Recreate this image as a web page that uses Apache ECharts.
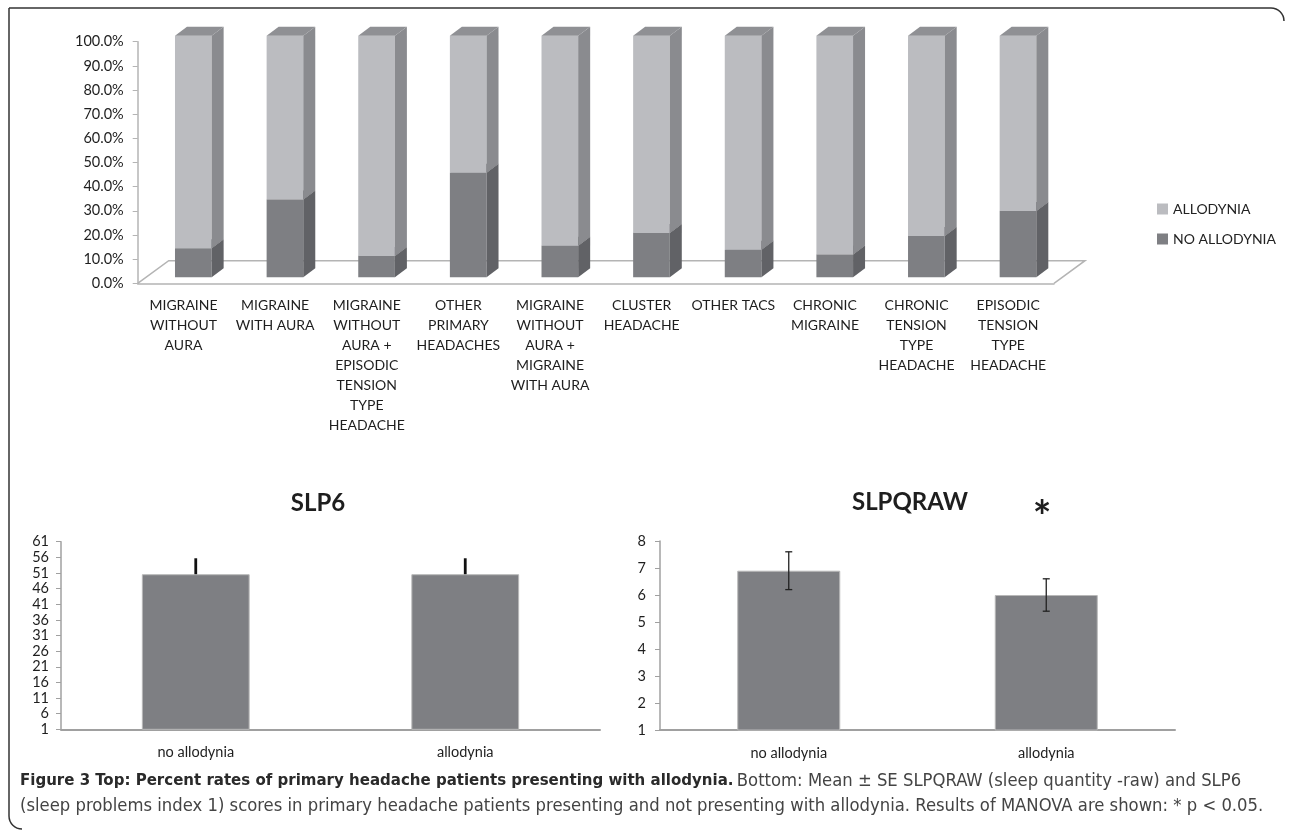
<!DOCTYPE html>
<html>
<head>
<meta charset="utf-8">
<script src="https://cdn.jsdelivr.net/npm/echarts@6/dist/echarts.min.js"></script>
<style>html,body{margin:0;padding:0;background:#fff;}#c{width:1290px;height:831px;}</style>
</head>
<body>
<div id="c"></div>
<script>
// ---- Top chart data ----
const categories = [
  'MIGRAINE\nWITHOUT\nAURA',
  'MIGRAINE\nWITH AURA',
  'MIGRAINE\nWITHOUT\nAURA +\nEPISODIC\nTENSION\nTYPE\nHEADACHE',
  'OTHER\nPRIMARY\nHEADACHES',
  'MIGRAINE\nWITHOUT\nAURA +\nMIGRAINE\nWITH AURA',
  'CLUSTER\nHEADACHE',
  'OTHER TACS',
  'CHRONIC\nMIGRAINE',
  'CHRONIC\nTENSION\nTYPE\nHEADACHE',
  'EPISODIC\nTENSION\nTYPE\nHEADACHE'
];
const noAllodynia = [12.0, 32.2, 8.8, 43.3, 13.1, 18.3, 11.4, 9.4, 17.1, 27.4];
const allodynia   = [88.0, 67.8, 91.2, 56.7, 86.9, 81.7, 88.6, 90.6, 82.9, 72.6];
const seriesNames = ['ALLODYNIA', 'NO ALLODYNIA'];

// ---- Bottom charts data ----
const groups = ['no allodynia', 'allodynia'];
const slp6Mean = [50.6, 50.6];
const slp6SE = [5.1, 5.1];
const slp6Ticks = [1, 6, 11, 16, 21, 26, 31, 36, 41, 46, 51, 56, 61];
const slpqMean = [6.9, 6.0];
const slpqSE = [0.7, 0.6];
const slpqTicks = [1, 2, 3, 4, 5, 6, 7, 8];

const FONT = 'Lato, "Open Sans", sans-serif';
const CAP_FONT = '"Liberation Sans Narrow", "DejaVu Sans Condensed", sans-serif';
const AXIS_GRAY = '#B4B4B4';

// 3D bar geometry (pixel styling only)
const DX_FRONT = 9.8, DY_FRONT = -6, DEPTH_X = 12, DEPTH_Y = -9;

function make3DRender(colFront, colSide, colTop) {
  return function (params, api) {
    const i = api.value(0);
    const lo = api.coord([i, api.value(1)]);
    const hi = api.coord([i, api.value(2)]);
    const band = api.size([1, 0])[0];
    const w = band * 0.4;
    const x0 = lo[0] - w / 2 + DX_FRONT;
    const yb = lo[1] + DY_FRONT;
    const yt = hi[1] + DY_FRONT;
    return {
      type: 'group',
      children: [
        { type: 'rect', shape: { x: x0, y: yt, width: w, height: yb - yt }, style: { fill: colFront } },
        { type: 'polygon', shape: { points: [[x0 + w, yb], [x0 + w + DEPTH_X, yb + DEPTH_Y], [x0 + w + DEPTH_X, yt + DEPTH_Y], [x0 + w, yt]] }, style: { fill: colSide } },
        { type: 'polygon', shape: { points: [[x0, yt], [x0 + DEPTH_X, yt + DEPTH_Y], [x0 + w + DEPTH_X, yt + DEPTH_Y], [x0 + w, yt]] }, style: { fill: colTop } }
      ]
    };
  };
}

const noData = noAllodynia.map((v, i) => [i, 0, v]);
const alloData = allodynia.map((v, i) => [i, noAllodynia[i], noAllodynia[i] + v]);

function errRender(upOnly, color, lw, cap) {
  return function (params, api) {
    const i = api.value(0), m = api.value(1), se = api.value(2);
    const top = api.coord([i, m + se]);
    const mid = api.coord([i, m]);
    const bot = api.coord([i, m - se]);
    const children = [];
    const yStart = upOnly ? mid[1] : bot[1];
    children.push({ type: 'line', shape: { x1: top[0], y1: top[1], x2: top[0], y2: yStart }, style: { stroke: color, lineWidth: lw } });
    if (cap > 0) {
      children.push({ type: 'line', shape: { x1: top[0] - cap, y1: top[1], x2: top[0] + cap, y2: top[1] }, style: { stroke: color, lineWidth: lw } });
      children.push({ type: 'line', shape: { x1: bot[0] - cap, y1: bot[1], x2: bot[0] + cap, y2: bot[1] }, style: { stroke: color, lineWidth: lw } });
    }
    return { type: 'group', children: children };
  };
}

const chart = echarts.init(document.getElementById('c'), null, { renderer: 'canvas' });

const option = {
  backgroundColor: '#fff',
  animation: false,
  textStyle: { fontFamily: FONT },
  legend: {
    orient: 'vertical',
    left: 1157, top: 202, padding: 0,
    itemWidth: 11, itemHeight: 11, itemGap: 16,
    icon: 'rect',
    data: seriesNames,
    textStyle: { fontSize: 14, color: '#222', fontFamily: FONT }
  },
  grid: [
    { left: 137.7, top: 41.7, width: 916.3, height: 241.6 },
    { left: 61, top: 541.7, width: 539, height: 187.6 },
    { left: 660, top: 541, width: 515, height: 189 }
  ],
  xAxis: [
    {
      gridIndex: 0, type: 'category', data: categories,
      axisLine: { lineStyle: { color: AXIS_GRAY, width: 1.5 } },
      axisTick: { lineStyle: { color: AXIS_GRAY }, length: 5 },
      axisLabel: { interval: 0, fontSize: 14, lineHeight: 20, color: '#1e1e1e', margin: 12, fontFamily: FONT, verticalAlign: 'top' }
    },
    {
      gridIndex: 1, type: 'category', data: groups,
      axisLine: { lineStyle: { color: '#A0A0A0', width: 2 } },
      axisTick: { lineStyle: { color: '#A0A0A0' }, length: 5 },
      axisLabel: { fontSize: 14.5, color: '#1e1e1e', margin: 16, fontFamily: FONT }
    },
    {
      gridIndex: 2, type: 'category', data: groups,
      axisLine: { lineStyle: { color: '#A0A0A0', width: 2 } },
      axisTick: { lineStyle: { color: '#A0A0A0' }, length: 5 },
      axisLabel: { fontSize: 14.5, color: '#1e1e1e', margin: 16, fontFamily: FONT }
    }
  ],
  yAxis: [
    {
      gridIndex: 0, type: 'value', min: 0, max: 100, interval: 10,
      axisLine: { show: true, lineStyle: { color: AXIS_GRAY, width: 1.5 } },
      axisTick: { show: true, lineStyle: { color: AXIS_GRAY }, length: 5 },
      splitLine: { show: false },
      axisLabel: { fontSize: 14.5, color: '#1e1e1e', margin: 14, fontFamily: FONT, formatter: v => v.toFixed(1) + '%' }
    },
    {
      gridIndex: 1, type: 'value', min: 1, max: 61,
      axisLine: { show: true, lineStyle: { color: '#A0A0A0', width: 1.5 } },
      axisTick: { show: true, lineStyle: { color: '#A0A0A0' }, length: 5, customValues: slp6Ticks },
      splitLine: { show: false },
      axisLabel: { fontSize: 14.5, color: '#1e1e1e', margin: 12, fontFamily: FONT, customValues: slp6Ticks }
    },
    {
      gridIndex: 2, type: 'value', min: 1, max: 8, interval: 1,
      axisLine: { show: true, lineStyle: { color: '#A0A0A0', width: 1.5 } },
      axisTick: { show: true, lineStyle: { color: '#A0A0A0' }, length: 5 },
      splitLine: { show: false },
      axisLabel: { fontSize: 14.5, color: '#1e1e1e', margin: 14, fontFamily: FONT }
    }
  ],
  series: [
    {
      type: 'custom', name: 'floor', xAxisIndex: 0, yAxisIndex: 0, silent: true, z: 1,
      data: [[0]],
      renderItem: function (params, api) {
        const band = api.size([1, 0])[0];
        const a = api.coord([0, 0]);
        const b = api.coord([categories.length - 1, 0]);
        const xl = a[0] - band / 2, xr = b[0] + band / 2, y = a[1];
        return {
          type: 'polyline',
          shape: { points: [[xl, y], [xl + 31, y - 22.6], [xr + 31, y - 22.6], [xr, y]] },
          style: { stroke: AXIS_GRAY, lineWidth: 1.5, fill: null }
        };
      }
    },
    {
      type: 'custom', name: 'NO ALLODYNIA', xAxisIndex: 0, yAxisIndex: 0, z: 3,
      itemStyle: { color: '#7E7F83' },
      encode: { x: 0, y: [1, 2] },
      data: noData,
      renderItem: make3DRender('#7E7F83', '#616266', '#6E6F73')
    },
    {
      type: 'custom', name: 'ALLODYNIA', xAxisIndex: 0, yAxisIndex: 0, z: 3,
      itemStyle: { color: '#BBBCC0' },
      encode: { x: 0, y: [1, 2] },
      data: alloData,
      renderItem: make3DRender('#BBBCC0', '#8A8B8F', '#8F9094')
    },
    {
      type: 'bar', name: 'SLP6', xAxisIndex: 1, yAxisIndex: 1, barWidth: '40%',
      itemStyle: { color: '#7E7F83', borderColor: '#B8B8B8', borderWidth: 1 },
      data: slp6Mean
    },
    {
      type: 'custom', name: 'SLP6 SE', xAxisIndex: 1, yAxisIndex: 1, z: 4,
      data: slp6Mean.map((m, i) => [i, m, slp6SE[i]]),
      renderItem: errRender(true, '#111', 2.8, 0)
    },
    {
      type: 'bar', name: 'SLPQRAW', xAxisIndex: 2, yAxisIndex: 2, barWidth: '40%',
      itemStyle: { color: '#7E7F83', borderColor: '#B8B8B8', borderWidth: 1 },
      data: slpqMean
    },
    {
      type: 'custom', name: 'SLPQRAW SE', xAxisIndex: 2, yAxisIndex: 2, z: 4,
      data: slpqMean.map((m, i) => [i, m, slpqSE[i]]),
      renderItem: errRender(false, '#222', 1.3, 3.5)
    }
  ],
  graphic: [
    { type: 'text', x: 318, y: 503, style: { text: 'SLP6', font: 'bold 24px ' + FONT, fill: '#1e1e1e', textAlign: 'center', textVerticalAlign: 'middle' } },
    { type: 'text', x: 910, y: 502, style: { text: 'SLPQRAW', font: 'bold 24px ' + FONT, fill: '#1e1e1e', textAlign: 'center', textVerticalAlign: 'middle' } },
    { type: 'text', x: 1042, y: 518, style: { text: '*', font: 'bold 44px ' + FONT, fill: '#1e1e1e', textAlign: 'center', textVerticalAlign: 'middle' } },
    {
      type: 'text', x: 20, y: 781,
      style: {
        text: '{b|Figure 3 Top: Percent rates of primary headache patients presenting with allodynia.} {n|Bottom: Mean ± SE SLPQRAW (sleep quantity -raw) and SLP6}',
        textVerticalAlign: 'middle',
        rich: {
          b: { font: 'bold 16.7px ' + CAP_FONT, fill: '#2a2a2a' },
          n: { font: '18.3px ' + CAP_FONT, fill: '#444' }
        }
      }
    },
    {
      type: 'text', x: 20, y: 806,
      style: {
        text: '(sleep problems index 1) scores in primary headache patients presenting and not presenting with allodynia. Results of MANOVA are shown: * p < 0.05.',
        textVerticalAlign: 'middle',
        font: '18.3px ' + CAP_FONT, fill: '#444'
      }
    },
    { type: 'polyline', silent: true, shape: { points: [[9, 8], [1271, 8]] }, style: { stroke: '#333', lineWidth: 1.5, fill: null } },
    { type: 'arc', silent: true, shape: { cx: 1271, cy: 21, r: 13, startAngle: -Math.PI / 2, endAngle: 0 }, style: { stroke: '#333', lineWidth: 1.5, fill: null } },
    { type: 'polyline', silent: true, shape: { points: [[9, 8], [9, 816]] }, style: { stroke: '#333', lineWidth: 1.5, fill: null } },
    { type: 'arc', silent: true, shape: { cx: 22, cy: 816, r: 13, startAngle: Math.PI / 2, endAngle: Math.PI }, style: { stroke: '#333', lineWidth: 1.5, fill: null } }
  ]
};
chart.setOption(option);
</script>
</body>
</html>
